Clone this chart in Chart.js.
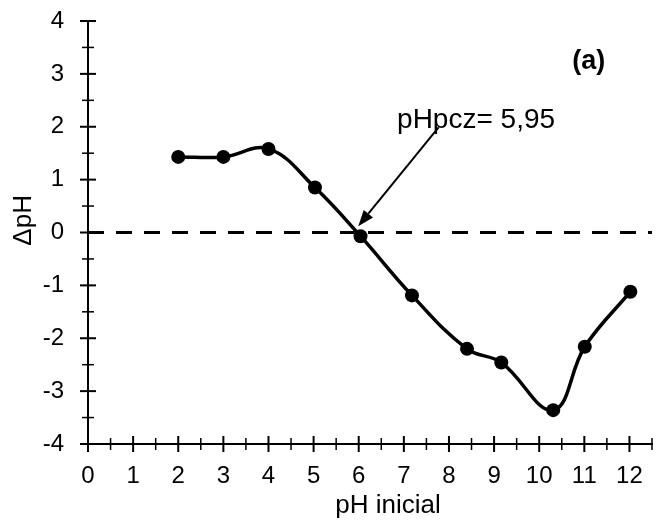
<!DOCTYPE html>
<html>
<head>
<meta charset="utf-8">
<script src="https://cdn.jsdelivr.net/npm/chart.js@4.4.1/dist/chart.umd.min.js"></script>
<style>
	body { margin: 0; background: #fff; }
</style>
</head>
<body>
<canvas id="myChart" width="660" height="525"></canvas>
<script>
// values
var phInicial = [2, 3, 4, 5.03, 6.04, 7.18, 8.4, 9.16, 10.31, 11.01, 12.02];
var deltaPH = [1.43, 1.43, 1.58, 0.85, -0.07, -1.19, -2.2, -2.46, -3.36, -2.16, -1.12];

// dashed line at deltaPH = 0
var zeroLineX = [0, 12.5];
var zeroLineY = [0, 0];

var xRange = [0, 12.5];
var yRange = [-4, 4];

var xTitle = "pH inicial";
var yTitle = "ΔpH";
var panelLabel = "(a)";
var pzcLabel = "pHpcz= 5,95";

var fontFamily = "'Liberation Sans', Arial, sans-serif";

function toPoints(xs, ys) {
	var pts = [];
	for (var i = 0; i < xs.length; i++) {
		pts.push({ x: xs[i], y: ys[i] });
	}
	return pts;
}

// tick marks that cross the axis lines, long on whole numbers, short on halves
var crossTicks = {
	id: "crossTicks",
	afterDraw: function(chart) {
		var ctx = chart.ctx;
		var xs = chart.scales.x;
		var ys = chart.scales.y;
		ctx.save();
		ctx.strokeStyle = "#000";
		xs.ticks.forEach(function(t) {
			var major = Number.isInteger(t.value);
			var px = xs.getPixelForValue(t.value);
			var len = major ? 8 : 6;
			ctx.lineWidth = major ? 2 : 1.5;
			ctx.beginPath();
			ctx.moveTo(px, ys.bottom - len);
			ctx.lineTo(px, ys.bottom + len);
			ctx.stroke();
		});
		ys.ticks.forEach(function(t) {
			var major = Number.isInteger(t.value);
			var py = ys.getPixelForValue(t.value);
			var len = major ? 8 : 6;
			ctx.lineWidth = major ? 2 : 1.5;
			ctx.beginPath();
			ctx.moveTo(xs.left - len, py);
			ctx.lineTo(xs.left + len, py);
			ctx.stroke();
		});
		ctx.restore();
	}
};

// axis titles, panel label and the arrow pointing at the zero crossing
var notes = {
	id: "notes",
	afterDraw: function(chart) {
		var ctx = chart.ctx;
		var xs = chart.scales.x;
		var ys = chart.scales.y;
		ctx.save();
		ctx.fillStyle = "#000";
		ctx.strokeStyle = "#000";

		ctx.font = "26px " + fontFamily;
		ctx.textAlign = "center";
		ctx.textBaseline = "middle";
		ctx.fillText(xTitle, xs.getPixelForValue(6.65), 506);

		ctx.save();
		ctx.translate(24, ys.getPixelForValue(0.23));
		ctx.rotate(-Math.PI / 2);
		ctx.fillText(yTitle, 0, 0);
		ctx.restore();

		ctx.font = "bold 27px " + fontFamily;
		ctx.fillText(panelLabel, xs.getPixelForValue(11.1), ys.getPixelForValue(3.24));

		ctx.font = "28px " + fontFamily;
		ctx.textAlign = "left";
		ctx.fillText(pzcLabel, xs.getPixelForValue(6.85), ys.getPixelForValue(2.13));

		// arrow
		var x1 = xs.getPixelForValue(7.77), y1 = ys.getPixelForValue(1.99);
		var x2 = xs.getPixelForValue(5.99), y2 = ys.getPixelForValue(0.12);
		var ang = Math.atan2(y2 - y1, x2 - x1);
		var headLen = 16, headW = 6;
		var bx = x2 - headLen * Math.cos(ang), by = y2 - headLen * Math.sin(ang);
		ctx.lineWidth = 2;
		ctx.beginPath();
		ctx.moveTo(x1, y1);
		ctx.lineTo(bx, by);
		ctx.stroke();
		ctx.beginPath();
		ctx.moveTo(x2, y2);
		ctx.lineTo(bx + headW * Math.sin(ang), by - headW * Math.cos(ang));
		ctx.lineTo(bx - headW * Math.sin(ang), by + headW * Math.cos(ang));
		ctx.closePath();
		ctx.fill();
		ctx.restore();
	}
};

function intLabel(v) {
	return Number.isInteger(v) ? v : "";
}

new Chart("myChart", {
	type: "line",
	data: {
		datasets: [{
			data: toPoints(phInicial, deltaPH),
			borderColor: "#000",
			backgroundColor: "#000",
			borderWidth: 3.5,
			pointRadius: 7,
			pointBorderWidth: 0,
			tension: 0.4,
			order: 0
		}, {
			data: toPoints(zeroLineX, zeroLineY),
			borderColor: "#000",
			borderWidth: 3,
			borderDash: [16, 12],
			pointRadius: 0,
			order: 1
		}]
	},
	options: {
		responsive: false,
		animation: false,
		layout: {
			padding: { top: 21, right: 8, bottom: 0, left: 0 }
		},
		plugins: {
			legend: { display: false },
			tooltip: { enabled: false }
		},
		scales: {
			x: {
				type: "linear",
				min: xRange[0],
				max: xRange[1],
				afterFit: function(scale) {
					scale.height = 81;
					scale.paddingLeft = 0;
					scale.paddingRight = 0;
				},
				ticks: {
					stepSize: 0.5,
					autoSkip: false,
					maxRotation: 0,
					padding: 18,
					color: "#000",
					font: { family: fontFamily, size: 24 },
					callback: intLabel
				},
				grid: { display: false, drawTicks: false },
				border: { display: true, color: "#000", width: 2 }
			},
			y: {
				type: "linear",
				min: yRange[0],
				max: yRange[1],
				afterFit: function(scale) {
					scale.width = 88;
					scale.paddingTop = 0;
					scale.paddingBottom = 0;
				},
				ticks: {
					stepSize: 0.5,
					autoSkip: false,
					padding: 24,
					color: "#000",
					font: { family: fontFamily, size: 24 },
					callback: intLabel
				},
				grid: { display: false, drawTicks: false },
				border: { display: true, color: "#000", width: 2 }
			}
		}
	},
	plugins: [crossTicks, notes]
});
</script>
</body>
</html>
